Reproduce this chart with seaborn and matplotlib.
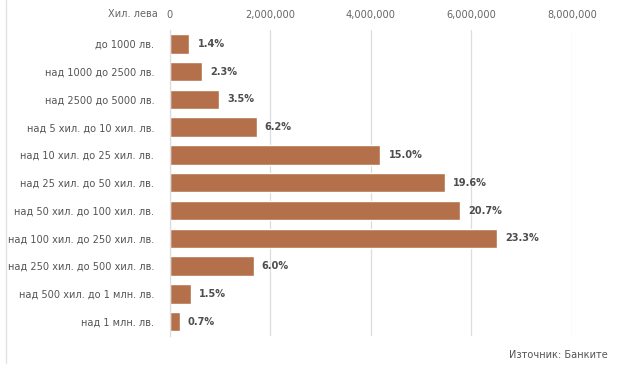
import pandas as pd
import seaborn as sns
import matplotlib.pyplot as plt
from matplotlib import font_manager
from matplotlib.ticker import FuncFormatter

# Данни (хил. лева) - отчетени от графиката
категории = [
    'до 1000 лв.',
    'над 1000 до 2500 лв.',
    'над 2500 до 5000 лв.',
    'над 5 хил. до 10 хил. лв.',
    'над 10 хил. до 25 хил. лв.',
    'над 25 хил. до 50 хил. лв.',
    'над 50 хил. до 100 хил. лв.',
    'над 100 хил. до 250 хил. лв.',
    'над 250 хил. до 500 хил. лв.',
    'над 500 хил. до 1 млн. лв.',
    'над 1 млн. лв.',
]
стойности = [390000, 640000, 980000, 1730000, 4190000, 5470000,
             5780000, 6500000, 1670000, 420000, 200000]
дялове = ['1.4%', '2.3%', '3.5%', '6.2%', '15.0%', '19.6%',
          '20.7%', '23.3%', '6.0%', '1.5%', '0.7%']
x_ticks = [0, 2000000, 4000000, 6000000, 8000000]

df = pd.DataFrame({'категория': категории, 'стойност': стойности, 'дял': дялове})

sns.set_theme(style='white')

# тесен шрифт, ако има такъв
шрифтове = [(f.name, f.stretch) for f in font_manager.fontManager.ttflist]
fs = 9.5
if any(n == 'Liberation Sans Narrow' for n, s in шрифтове):
    plt.rcParams['font.family'] = ['Liberation Sans Narrow', 'DejaVu Sans']
elif any(n == 'DejaVu Sans' and s == 'condensed' for n, s in шрифтове):
    plt.rcParams['font.family'] = ['DejaVu Sans']
    plt.rcParams['font.stretch'] = 'condensed'
    fs = 7.8
else:
    plt.rcParams['font.family'] = ['Roboto', 'DejaVu Sans']
    fs = 7.6

fig = plt.figure(figsize=(6.2, 3.73), dpi=100)
ax = fig.add_axes([169.5 / 620, 1 - 335.5 / 373, (572 - 169.5) / 620, 305.5 / 373])

sns.barplot(
    data=df,
    x='стойност',
    y='категория',
    orient='h',
    color='#b4704a',
    saturation=1,
    width=0.7,
    ax=ax
)

# Етикети с дяловете
for i, (v, d) in enumerate(zip(стойности, дялове)):
    ax.annotate(d, xy=(v, i), xytext=(6, 0), textcoords='offset points',
                va='center', ha='left', fontsize=fs, fontweight='bold',
                color='#4d4d4d')

ax.set_xlim(0, 8000000)
ax.set_xticks(x_ticks)
ax.xaxis.set_major_formatter(FuncFormatter(lambda v, p: f'{int(v):,}'))
ax.xaxis.tick_top()
ax.tick_params(axis='x', length=0, pad=7, labelsize=fs, labelcolor='#666666')
ax.tick_params(axis='y', length=0, pad=11, labelsize=fs, labelcolor='#555555')
ax.set_xlabel('')
ax.set_ylabel('')

ax.grid(axis='x', color='#dddddd', linewidth=0.9)
ax.set_axisbelow(True)
for s in ['top', 'right', 'bottom']:
    ax.spines[s].set_visible(False)
ax.spines['left'].set_color('#dddddd')
ax.spines['left'].set_linewidth(0.9)

fig.text(158 / 620, 1 - 14 / 373, 'Хил. лева', ha='right', va='center',
         fontsize=fs, color='#666666')
fig.text(608 / 620, 1 - 355 / 373, 'Източник: Банките', ha='right', va='center',
         fontsize=fs, color='#555555')

# рамка вляво
fig.add_artist(plt.Line2D([6 / 620, 6 / 620], [1 - 363 / 373, 1], color='#e3e3e3',
                          linewidth=1))

plt.savefig('out.png', dpi=100)
